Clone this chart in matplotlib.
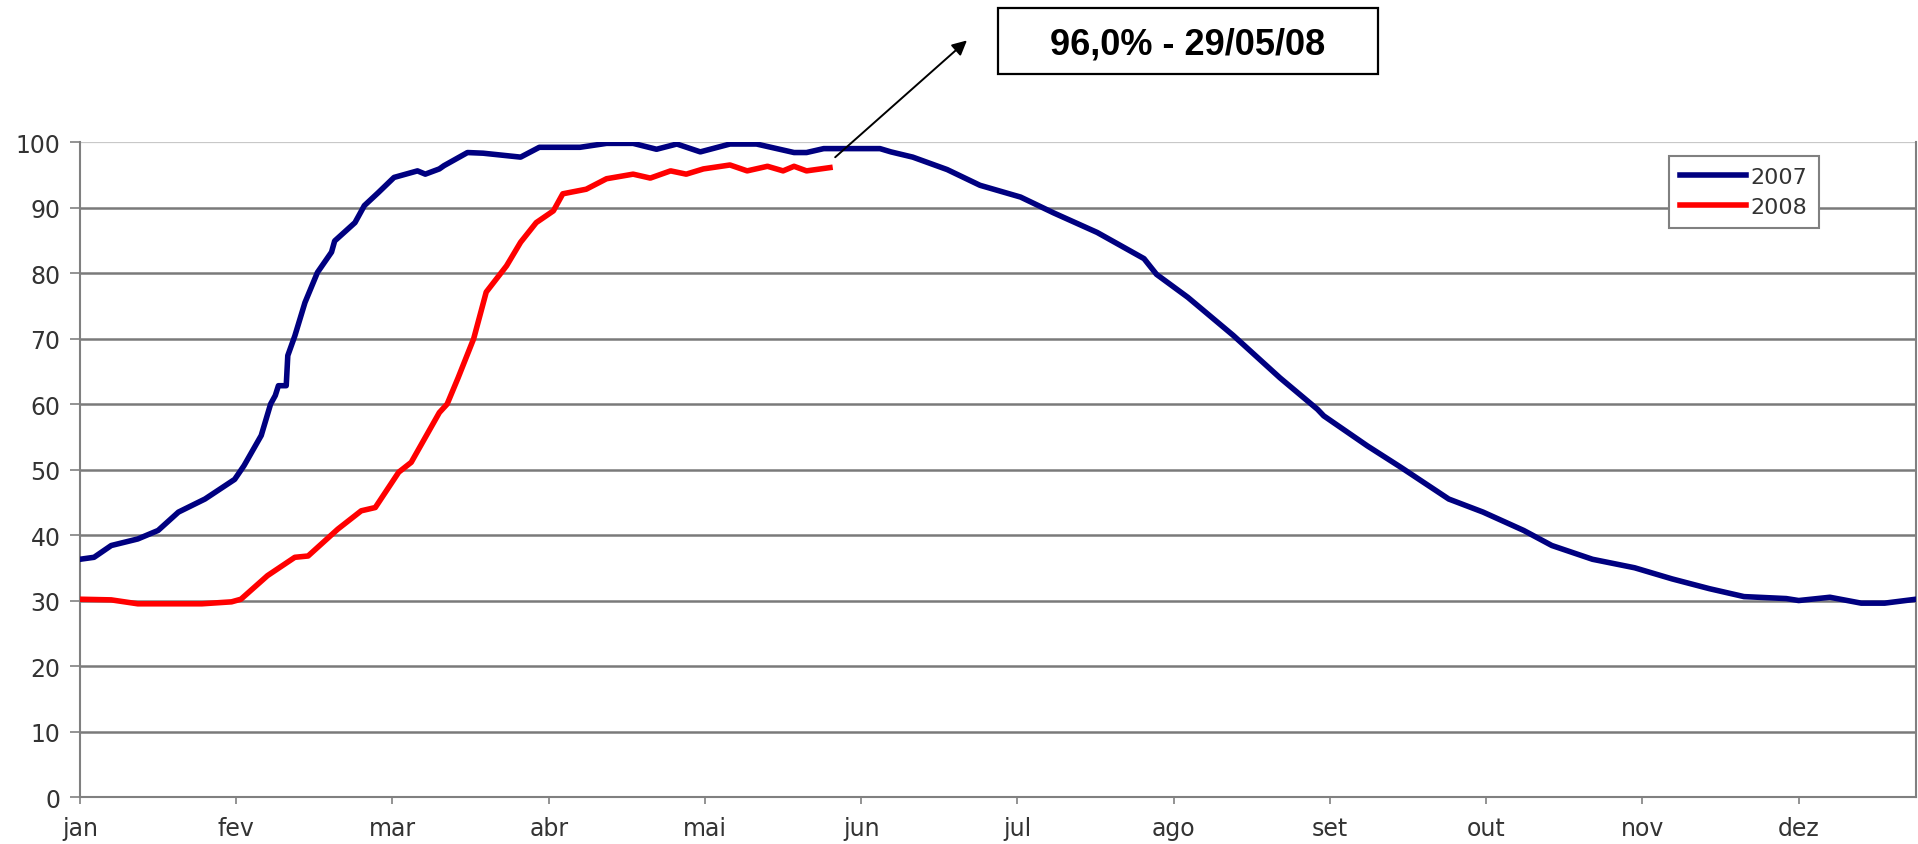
import matplotlib
matplotlib.use("Agg")
import matplotlib.pyplot as plt
from matplotlib.patches import Rectangle

# month index (0 = jan) and stored level (%)
months_2007 = [0.0, 0.09, 0.2, 0.37, 0.5, 0.63, 0.8, 0.99, 1.05, 1.16, 1.22, 1.25, 1.27, 1.32,
               1.33, 1.375, 1.44, 1.52, 1.61, 1.63, 1.76, 1.82, 1.91, 2.01, 2.16, 2.21, 2.30,
               2.33, 2.48, 2.58, 2.82, 2.94, 3.2, 3.37, 3.54, 3.69, 3.82, 3.97, 4.16, 4.33,
               4.57, 4.65, 4.76, 5.12, 5.19, 5.33, 5.55, 5.76, 6.02, 6.23, 6.51, 6.81, 6.89,
               7.09, 7.38, 7.68, 7.92, 7.96, 8.24, 8.45, 8.76, 8.98, 9.24, 9.42, 9.68, 9.95,
               10.19, 10.43, 10.65, 10.92, 11.0, 11.2, 11.4, 11.55, 11.75]
level_2007 = [36.3, 36.6, 38.4, 39.4, 40.7, 43.5, 45.5, 48.5, 50.6, 55.2, 60.0, 61.3, 62.8, 62.8,
              67.4, 70.4, 75.5, 80.1, 83.2, 84.9, 87.7, 90.3, 92.3, 94.6, 95.6, 95.1, 95.9,
              96.4, 98.4, 98.3, 97.7, 99.2, 99.2, 99.8, 99.8, 98.9, 99.7, 98.5, 99.7, 99.7,
              98.4, 98.4, 99.0, 99.0, 98.5, 97.7, 95.8, 93.4, 91.6, 89.2, 86.2, 82.2, 79.8,
              76.3, 70.5, 64.0, 59.2, 58.2, 53.6, 50.4, 45.5, 43.5, 40.7, 38.4, 36.3, 35.0,
              33.3, 31.8, 30.6, 30.3, 30.0, 30.5, 29.6, 29.6, 30.2]

months_2008 = [0.0, 0.2, 0.37, 0.52, 0.78, 0.97, 1.03, 1.2, 1.375, 1.46, 1.65, 1.80, 1.89,
               2.04, 2.12, 2.30, 2.35, 2.42, 2.52, 2.60, 2.73, 2.82, 2.92, 3.03, 3.09, 3.24,
               3.37, 3.54, 3.65, 3.78, 3.88, 3.99, 4.16, 4.27, 4.40, 4.50, 4.57, 4.65, 4.80]
level_2008 = [30.2, 30.1, 29.5, 29.5, 29.5, 29.8, 30.2, 33.8, 36.6, 36.8, 40.9, 43.7, 44.2,
              49.6, 51.1, 58.7, 60.0, 64.0, 70.0, 77.1, 81.1, 84.7, 87.7, 89.5, 92.1, 92.8,
              94.4, 95.1, 94.5, 95.6, 95.1, 95.9, 96.5, 95.6, 96.3, 95.6, 96.3, 95.6, 96.1]

month_labels = ["jan", "fev", "mar", "abr", "mai", "jun",
                "jul", "ago", "set", "out", "nov", "dez"]
note_text = "96,0% - 29/05/08"

fig = plt.figure(figsize=(19.18, 8.45), dpi=100)
ax = fig.add_axes([0.0417, 0.0556, 0.9572, 0.7751])

# horizontal grid lines
for v in range(10, 100, 10):
    ax.axhline(v, color="#7a7a7a", lw=1.8, zorder=1)
ax.axhline(100, color="#c8c8c8", lw=1.6, zorder=1)

ax.plot(months_2007, level_2007, color="#000080", lw=4, label="2007", zorder=3)
ax.plot(months_2008, level_2008, color="#ff0000", lw=4, label="2008", zorder=3)

ax.set_xlim(0, 11.75)
ax.set_ylim(0, 100)
ax.set_xticks(range(12))
ax.set_xticklabels(month_labels)
ax.set_yticks(range(0, 101, 10))

ax.tick_params(axis="y", length=7, width=1.2, color="#808080", pad=7,
               labelsize=17, labelcolor="#333333")
ax.tick_params(axis="x", length=5, width=1.2, color="#808080", pad=9,
               labelsize=17, labelcolor="#333333")

for side in ["left", "bottom", "right"]:
    ax.spines[side].set_color("#808080")
    ax.spines[side].set_linewidth(1.5)
ax.spines["top"].set_visible(False)

leg = ax.legend(loc="upper right", bbox_to_anchor=(0.947, 0.979), borderaxespad=0,
                fontsize=16, handlelength=3.0, handletextpad=0.2, labelspacing=0.45,
                borderpad=0.5, fancybox=False, framealpha=1, edgecolor="#808080")
leg.get_frame().set_linewidth(1.5)
for t in leg.get_texts():
    t.set_color("#333333")

# arrow pointing from the end of the 2008 line up to the note box
ax.annotate("", xy=(5.69, 115.8), xytext=(4.82, 97.4), annotation_clip=False,
            arrowprops=dict(arrowstyle="-|>", color="black", lw=1.4, mutation_scale=22))

fig.add_artist(Rectangle((998 / 1918, 1 - 75 / 845), 380 / 1918, 66 / 845,
                         transform=fig.transFigure, fill=False, ec="black", lw=1.6))
fig.text(1188 / 1918, 1 - 55 / 845, note_text, ha="center", va="baseline",
         fontsize=26, fontweight="bold", family="Liberation Sans")

fig.savefig("out.png", dpi=100)
